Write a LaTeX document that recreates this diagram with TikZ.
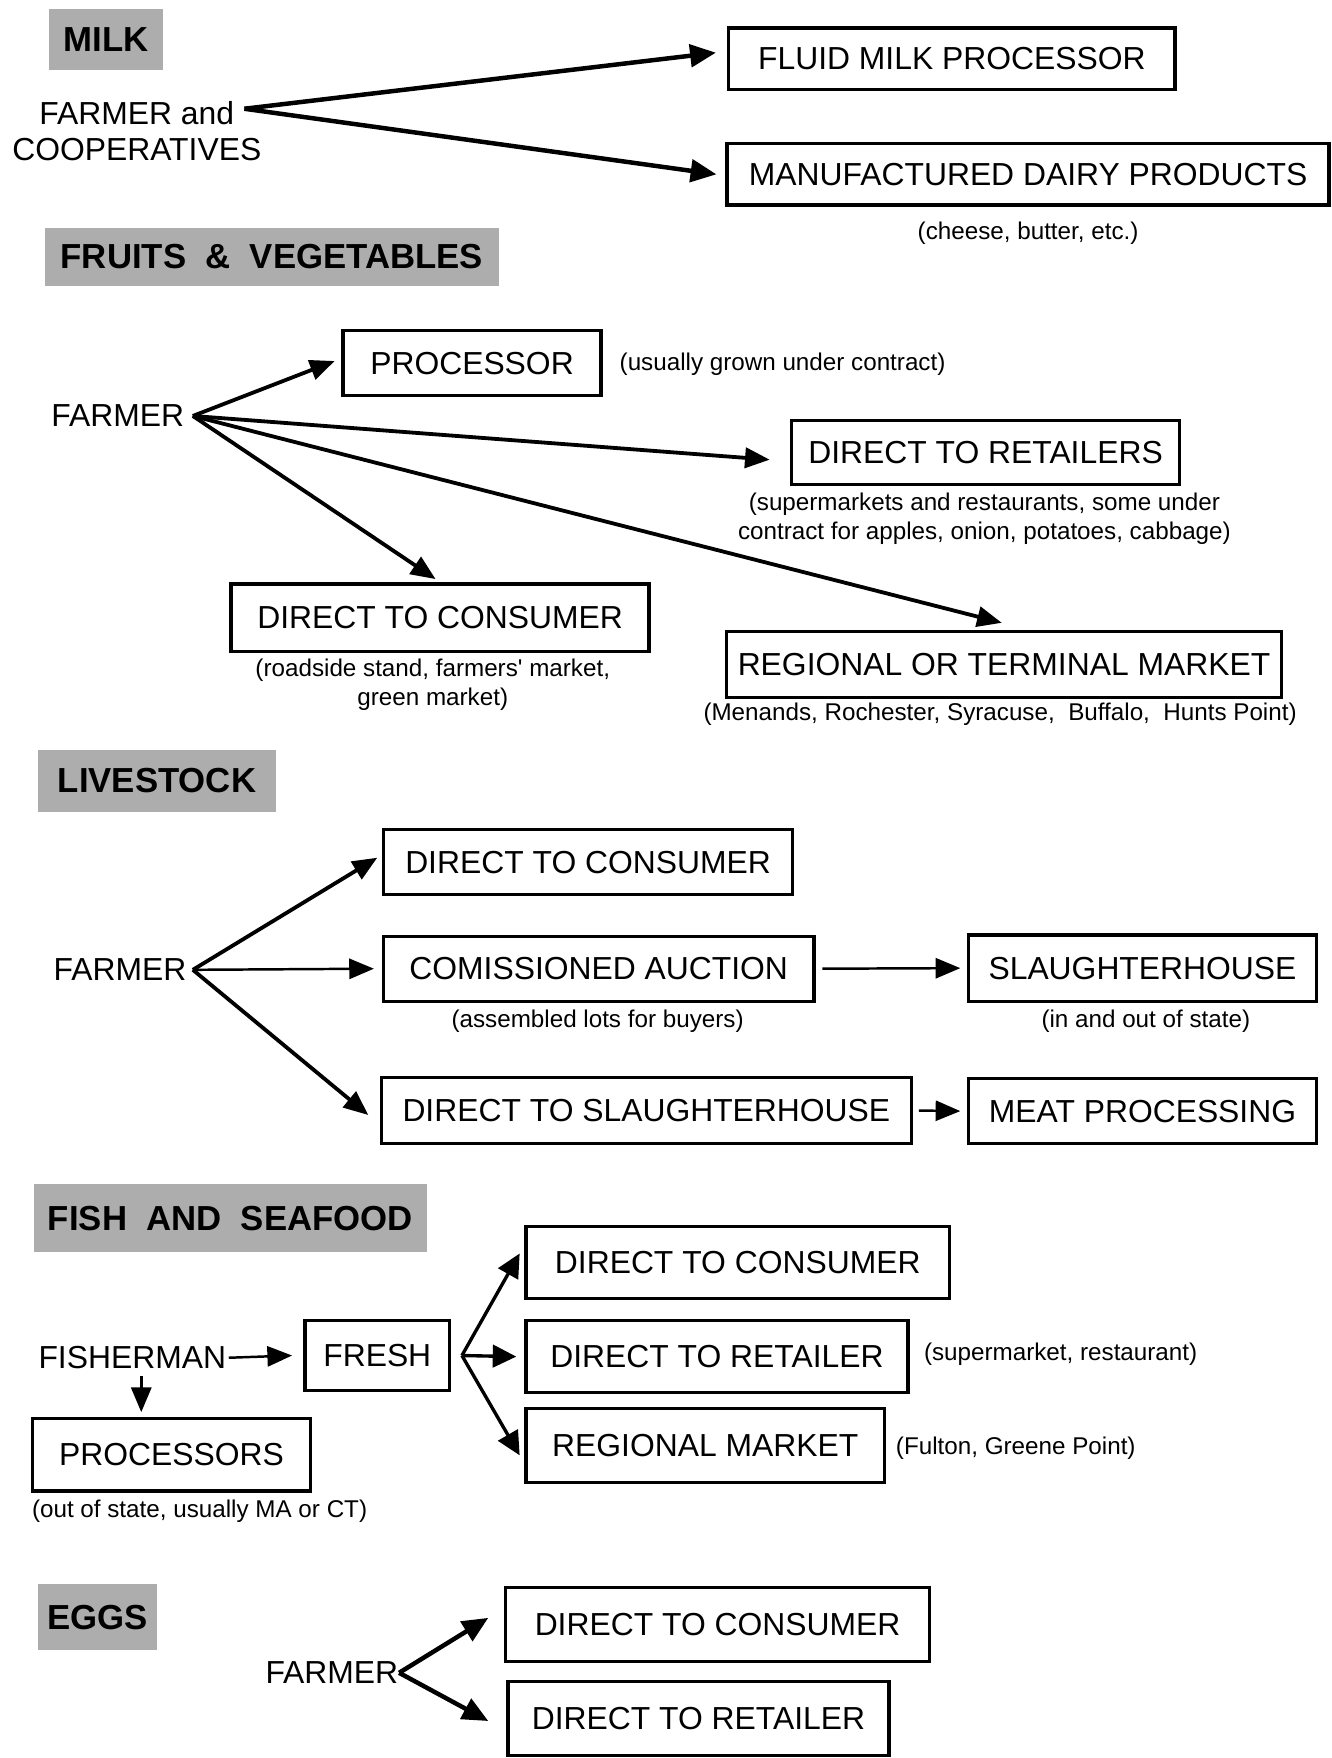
\documentclass[tikz,border=0pt]{standalone}
\usepackage{fontspec}
\setmainfont{Liberation Sans}
\newfontfamily\plainfont{Liberation Sans}
\usetikzlibrary{arrows.meta}
\begin{document}
\begin{tikzpicture}[x=0.5pt,y=-0.5pt,
 bx/.style={draw,line width=1.5pt,inner sep=0pt,font=\fontsize{14.2}{17}\selectfont},
 hd/.style={fill=black!32,inner sep=0pt,font=\bfseries\fontsize{15.5}{18}\selectfont},
 tx/.style={inner sep=0pt,font=\fontsize{14.2}{16}\selectfont},
 sm/.style={inner sep=0pt,align=center,font=\fontsize{10.8}{13}\selectfont},
 arr/.style={line width=2pt,-{Triangle[length=11.5pt,width=10pt]}},
 arrf/.style={line width=1.7pt,-{Triangle[length=11pt,width=9pt]}},
 arrs/.style={line width=1.1pt,-{Triangle[length=11pt,width=9pt]}},
 arrm/.style={line width=1.5pt,-{Triangle[length=10.5pt,width=10pt]}},
]
\useasboundingbox (0,0) rectangle (1188,1568);

% ---------------- MILK
\node[hd,minimum width=50.5pt,minimum height=27pt] (hmilk) at (94.5,35) {MILK};
\node[tx,align=center] (mfarm) at (122,117) {FARMER and\\COOPERATIVES};
\coordinate (mo) at (218,97);
\node[bx,minimum width=199pt,minimum height=27.5pt] (fmp) at (849,52.5) {FLUID MILK PROCESSOR};
\node[bx,minimum width=268.5pt,minimum height=27.5pt] (mdp) at (917,155.5) {MANUFACTURED DAIRY PRODUCTS};
\node[sm] (cheese) at (917,208) {(cheese, butter, etc.)};
\draw[arr] (mo) -- ([xshift=-5pt,yshift=2.75pt]fmp.west);
\draw[arr] (mo) -- ([xshift=-4pt]mdp.west);

% ---------------- FRUITS & VEGETABLES
\node[hd,minimum width=202.5pt,minimum height=26pt] (hfruit) at (242.5,229) {FRUITS \ \& \ VEGETABLES};
\node[tx] (ffarm) at (105,371) {FARMER};
\coordinate (fo) at (172,371);
\node[bx,minimum width=115pt,minimum height=29pt] (proc) at (421,324) {PROCESSOR};
\node[sm] (usually) at (698,325) {(usually grown under contract)};
\node[bx,minimum width=173pt,minimum height=28.5pt] (dtr) at (879,403.5) {DIRECT TO RETAILERS};
\node[sm] (superm) at (878,463) {(supermarkets and restaurants, some under\\contract for apples, onion, potatoes, cabbage)};
\node[bx,minimum width=186.5pt,minimum height=30pt] (dtc) at (392.5,551) {DIRECT TO CONSUMER};
\node[sm] (roadside) at (386,611) {(roadside stand, farmers{\plainfont '} market,\\green market)};
\node[bx,minimum width=247.5pt,minimum height=29.5pt] (rtm) at (895.5,592.5) {REGIONAL OR TERMINAL MARKET};
\node[sm] (menands) at (892,637) {(Menands, Rochester, Syracuse, \ Buffalo, \ Hunts Point)};
\draw[arrf] (fo) -- ([xshift=-3pt,yshift=1pt]proc.west);
\draw[arrf] (fo) -- ([xshift=-9pt,yshift=-3.25pt]dtr.west);
\draw[arrf] (fo) -- ([xshift=-2pt,yshift=1.5pt]dtc.north);
\draw[arrf] (fo) -- ([xshift=-1pt,yshift=3pt]rtm.north);

% ---------------- LIVESTOCK
\node[hd,minimum width=106pt,minimum height=27.5pt] (hlive) at (140,696.5) {LIVESTOCK};
\node[tx] (lfarm) at (107,865) {FARMER};
\coordinate (lo) at (172,865);
\node[bx,minimum width=182.5pt,minimum height=29pt] (ldtc) at (524.5,769) {DIRECT TO CONSUMER};
\node[bx,minimum width=192pt,minimum height=29pt] (auc) at (534,864) {COMISSIONED AUCTION};
\node[sm] (assembled) at (533,911) {(assembled lots for buyers)};
\node[bx,minimum width=155pt,minimum height=29.5pt] (slh) at (1019,863.5) {SLAUGHTERHOUSE};
\node[sm] (inout) at (1022,911) {(in and out of state)};
\node[bx,minimum width=236.5pt,minimum height=29.5pt] (dts) at (576.5,990.5) {DIRECT TO SLAUGHTERHOUSE};
\node[bx,minimum width=155pt,minimum height=29pt] (meat) at (1019,991) {MEAT PROCESSING};
\draw[arrf] (lo) -- ([xshift=-2pt,yshift=2pt]ldtc.west);
\draw[arrs] (lo) -- ([xshift=-3.5pt]auc.west);
\draw[arrf] (lo) -- ([xshift=-5pt,yshift=-2pt]dts.west);
\draw[arrs] ([xshift=3pt]auc.east) -- ([xshift=-3pt]slh.west);
\draw[arrs] ([xshift=2.5pt]dts.east) -- ([xshift=-3pt]meat.west);

% ---------------- FISH AND SEAFOOD
\node[hd,minimum width=175.5pt,minimum height=30.5pt] (hfish) at (205.5,1086.5) {FISH \ AND \ SEAFOOD};
\node[tx] (fisher) at (118,1211) {FISHERMAN};
\node[bx,minimum width=64.5pt,minimum height=31pt] (fresh) at (336.5,1209) {FRESH};
\node[bx,minimum width=189pt,minimum height=32pt] (fdtc) at (658,1126) {DIRECT TO CONSUMER};
\node[bx,minimum width=170.5pt,minimum height=32pt] (fdtr) at (639.5,1210) {DIRECT TO RETAILER};
\node[sm] (supr) at (946,1208) {(supermarket, restaurant)};
\node[bx,minimum width=160pt,minimum height=33pt] (fregm) at (629,1289) {REGIONAL MARKET};
\node[sm] (fulton) at (906,1292) {(Fulton, Greene Point)};
\node[bx,minimum width=124pt,minimum height=32.5pt] (fproc) at (153,1297.5) {PROCESSORS};
\node[sm] (outstate) at (178,1348) {(out of state, usually MA or CT)};
\coordinate (fro) at (412,1209);
\draw[arrs] ([xshift=1pt]fisher.east) -- ([xshift=-5pt]fresh.west);
\draw[arrs] ([xshift=4pt,yshift=-3pt]fisher.south) -- ([xshift=4pt,yshift=2pt]fisher.south |- fproc.north);
\draw[arrm] (fro) -- ([xshift=-2pt,yshift=4pt]fdtc.west);
\draw[arrm] (fro) -- ([xshift=-3.5pt]fdtr.west);
\draw[arrm] (fro) -- ([xshift=-2pt,yshift=-4.5pt]fregm.west);

% ---------------- EGGS
\node[hd,minimum width=53pt,minimum height=29.5pt] (heggs) at (87,1442.5) {EGGS};
\node[tx] (efarm) at (296,1492) {FARMER};
\coordinate (eo) at (356,1492);
\node[bx,minimum width=189pt,minimum height=33pt] (edtc) at (640,1449) {DIRECT TO CONSUMER};
\node[bx,minimum width=170pt,minimum height=33pt] (edtr) at (623,1533) {DIRECT TO RETAILER};
\draw[arr] (eo) -- ([xshift=-7pt,yshift=3pt]edtc.west);
\draw[arr] (eo) -- ([xshift=-8pt,yshift=-1pt]edtr.west);
\end{tikzpicture}
\end{document}
